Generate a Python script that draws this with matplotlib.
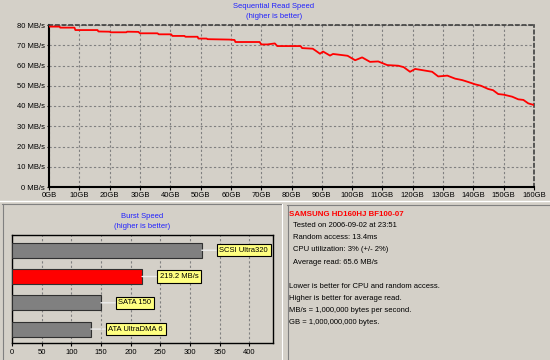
import matplotlib
matplotlib.use('Agg')
import matplotlib.pyplot as plt
from matplotlib.lines import Line2D

plt.rcParams['font.family'] = ['Liberation Sans', 'DejaVu Sans']

# ---------------- data ----------------
gb = [0, 3.5, 3.7, 8.4, 8.7, 16, 16.3, 20, 20.3, 25.5, 25.8, 29.5, 30, 35.8, 36.2,
      40.3, 40.7, 44.7, 45, 49, 49.3, 52, 52.3, 59.5, 61.2, 61.5, 69.5, 70, 72,
      74.5, 75.3, 83, 83.5, 87, 87.8, 89.4, 90.4, 92.7, 93.7, 98.5, 101, 103.3,
      105.9, 108.6, 111.6, 115.2, 117, 119.1, 120.8, 124, 126.4, 128.4, 131.4,
      134, 136.3, 138, 140.6, 142.5, 144.9, 146.5, 148.2, 150, 152.8, 154.8,
      156.5, 158.1, 160]
speed = [79.2, 79.2, 78.7, 78.7, 77.5, 77.5, 76.8, 76.7, 76.4, 76.4, 76.7, 76.6,
         75.9, 75.9, 75.4, 75.4, 74.6, 74.6, 74.2, 74.2, 73.3, 73.3, 73.0, 72.8,
         72.6, 71.6, 71.6, 70.4, 70.4, 70.9, 69.6, 69.6, 68.6, 68.3, 67.5, 65.8,
         66.9, 64.9, 65.7, 64.8, 62.6, 64.0, 61.8, 62.0, 60.2, 59.9, 59.2, 56.9,
         58.3, 57.5, 56.9, 54.6, 55.0, 53.5, 52.8, 52.0, 50.7, 50.0, 48.4, 47.8,
         45.9, 45.6, 44.6, 43.3, 43.0, 41.3, 40.5]
x_ticks = list(range(0, 161, 10))
x_labels = [f"{v}GB" for v in x_ticks]
y_ticks = list(range(0, 81, 10))
y_labels = [f"{v} MB/s" for v in y_ticks]

burst_labels = ["SCSI Ultra320", "219.2 MB/s", "SATA 150", "ATA UltraDMA 6"]
burst_values = [320, 219.2, 150, 133]
burst_colors = ["#808080", "#ff0000", "#808080", "#808080"]
burst_ticks = list(range(0, 401, 50))

drive_name = "SAMSUNG HD160HJ BF100-07"
info_lines = ["Tested on 2006-09-02 at 23:51",
              "Random access: 13.4ms",
              "CPU utilization: 3% (+/- 2%)",
              "Average read: 65.6 MB/s"]
note_lines = ["Lower is better for CPU and random access.",
              "Higher is better for average read.",
              "MB/s = 1,000,000 bytes per second.",
              "GB = 1,000,000,000 bytes."]

# ---------------- figure ----------------
W, H = 550, 360
BG = '#d4d0c8'
BLUE = '#2020ff'
FS = 5.5
fig = plt.figure(figsize=(5.5, 3.6), dpi=100, facecolor=BG)


def fx(x):
    return x / W


def fy(y):
    return 1 - y / H


def hline(y, x0, x1, color, lw=1.0):
    fig.add_artist(Line2D([fx(x0), fx(x1)], [fy(y), fy(y)], color=color, lw=lw,
                          transform=fig.transFigure))


def vline(x, y0, y1, color, lw=1.0):
    fig.add_artist(Line2D([fx(x), fx(x)], [fy(y0), fy(y1)], color=color, lw=lw,
                          transform=fig.transFigure))


# panel decorations
hline(200.5, 0, 550, '#ffffff', 1.0)
hline(203.5, 2, 282, '#808080', 0.8)
vline(2.5, 203.5, 359, '#808080', 0.8)
vline(281.5, 203.5, 359, '#ffffff', 0.8)
hline(205, 287, 549, '#808080', 0.8)
vline(287.5, 205, 359, '#808080', 0.8)

# ---------------- top: sequential read ----------------
ax = fig.add_axes([fx(49), fy(187), fx(534) - fx(49), fy(25) - fy(187)])
ax.set_facecolor(BG)
ax.plot(gb, speed, color='#ff0000', lw=1.3, zorder=3)
ax.set_xlim(0, 160)
ax.set_ylim(0, 80)
ax.set_xticks(x_ticks)
ax.set_xticklabels(x_labels)
ax.set_yticks(y_ticks)
ax.set_yticklabels(y_labels)
ax.grid(True, color='#808080', ls=(0, (2, 2)), lw=0.8)
ax.set_axisbelow(True)
for s in ['left', 'bottom']:
    ax.spines[s].set_color('black')
    ax.spines[s].set_linewidth(1.5)
for s in ['top', 'right']:
    ax.spines[s].set_color('#404040')
    ax.spines[s].set_linewidth(1.2)
    ax.spines[s].set_linestyle((0, (2, 2)))
ax.tick_params(axis='x', labelsize=FS, length=2, pad=1.5, width=0.8)
ax.tick_params(axis='y', labelsize=FS, length=1.5, pad=1.3, width=0.8)

fig.text(fx(274), fy(6), "Sequential Read Speed", color=BLUE, fontsize=FS,
         ha='center', va='center')
fig.text(fx(274), fy(16), "(higher is better)", color=BLUE, fontsize=FS,
         ha='center', va='center')

# ---------------- bottom-left: burst speed ----------------
bx = fig.add_axes([fx(12), fy(343), fx(273) - fx(12), fy(235) - fy(343)])
bx.set_facecolor(BG)
pos = list(range(len(burst_values)))
bx.barh(pos, burst_values, height=0.57, color=burst_colors, edgecolor='#303030',
        lw=0.8, zorder=3)
bx.set_xlim(0, 440)
bx.set_ylim(3.53, -0.58)
bx.set_xticks(burst_ticks)
bx.set_yticks([])
bx.grid(True, axis='x', color='#808080', ls=(0, (2, 2)), lw=0.8)
bx.set_axisbelow(True)
for s in bx.spines.values():
    s.set_color('black')
    s.set_linewidth(1.0)
bx.tick_params(axis='x', labelsize=FS, length=2, pad=2.5, width=0.8)

for p, v, lab in zip(pos, burst_values, burst_labels):
    bx.annotate(lab, xy=(v, p), xytext=(17.5, 0), textcoords='offset pixels',
                ha='left', va='center', fontsize=FS, color='black', zorder=5,
                bbox=dict(boxstyle='square,pad=0.35', fc='#ffff80', ec='black', lw=0.8),
                arrowprops=dict(arrowstyle='-', color='#ececec', lw=1.0,
                                shrinkA=0, shrinkB=0))

fig.text(fx(142), fy(217), "Burst Speed", color=BLUE, fontsize=FS,
         ha='center', va='center')
fig.text(fx(142), fy(226), "(higher is better)", color=BLUE, fontsize=FS,
         ha='center', va='center')

# ---------------- bottom-right: info ----------------
fig.text(fx(289), fy(214), drive_name, color='#ff0000', fontsize=5.7,
         fontweight='bold', ha='left', va='center')
for i, line in enumerate(info_lines):
    fig.text(fx(293), fy(225.3 + i * 12.3), line, color='black', fontsize=FS,
             ha='left', va='center')
for i, line in enumerate(note_lines):
    fig.text(fx(289), fy(286 + i * 12.1), line, color='black', fontsize=FS,
             ha='left', va='center')

fig.savefig('out.png', dpi=100, facecolor=BG)
